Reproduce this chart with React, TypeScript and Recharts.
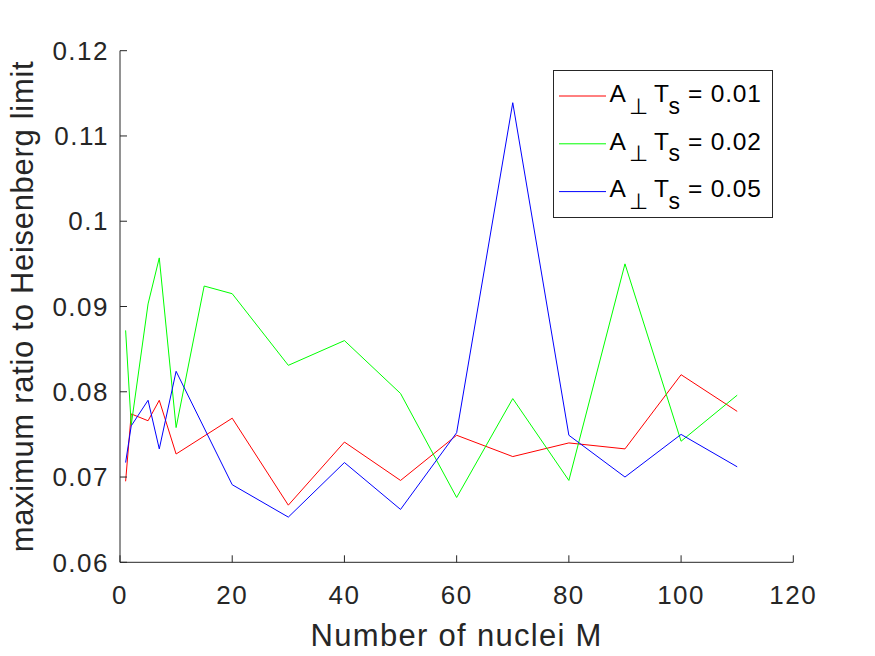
import React from 'react';
import { LineChart, Line, XAxis, YAxis, Legend } from 'recharts';

const nuclei = [1, 2, 5, 7, 10, 15, 20, 30, 40, 50, 60, 70, 80, 90, 100, 110];
const ts001 = [0.0695, 0.0774, 0.0766, 0.079, 0.0727, null, 0.0769, 0.0667, 0.0741, 0.0696, 0.0749, 0.0724, 0.074, 0.0733, 0.082, 0.0777];
const ts002 = [0.0872, 0.0761, 0.0903, 0.0957, 0.0758, 0.0924, 0.0915, 0.0831, 0.086, 0.0798, 0.0676, 0.0792, 0.0696, 0.095, 0.0742, 0.0796];
const ts005 = [0.0717, 0.076, 0.079, 0.0733, 0.0824, null, 0.0691, 0.0653, 0.0717, 0.0662, 0.0752, 0.1139, 0.0749, 0.07, 0.075, 0.0712];

const xTicks = [0, 20, 40, 60, 80, 100, 120];
const yTicks = [0.06, 0.07, 0.08, 0.09, 0.1, 0.11, 0.12];
const legendValues = ['0.01', '0.02', '0.05'];
const seriesColors = ['#ff0000', '#00ff00', '#0000ff'];

const data = nuclei.map((m, i) => ({ M: m, a: ts001[i], b: ts002[i], c: ts005[i] }));

const FONT = '"Liberation Sans", Arial, Helvetica, sans-serif';
const INK = '#262626';

const LegendBox = () => (
  <svg width={220} height={148} style={{ display: 'block' }}>
    <rect x={0.5} y={0.5} width={219} height={147} fill="#ffffff" stroke={INK} strokeWidth={1} />
    {legendValues.map((v, i) => {
      const ly = 26 + 47.8 * i;
      return (
        <g key={v}>
          <line x1={6} x2={53} y1={ly} y2={ly} stroke={seriesColors[i]} strokeWidth={1} />
          <text x={56.5} y={ly + 5.8} fontFamily={FONT} fontSize={24.5} fill="#000">
            A
            <tspan x={76} dy={11.8} fontSize={22} fontFamily={'"DejaVu Sans", sans-serif'}>⊥</tspan>
            <tspan x={101} dy={-11.8}>T</tspan>
            <tspan x={115.5} dy={11.8} fontSize={23}>s</tspan>
            <tspan x={135} dy={-11.8} letterSpacing={0.8}>= {v}</tspan>
          </text>
        </g>
      );
    })}
  </svg>
);

export default function App() {
  return (
    <div style={{ position: 'absolute', left: 0, top: 0, width: 875, height: 656, background: '#ffffff' }}>
      <LineChart width={875} height={656} data={data} margin={{ top: 50.7, right: 81.7, bottom: 0, left: 0 }}>
        <XAxis
          dataKey="M"
          type="number"
          domain={[0, 120]}
          ticks={xTicks}
          interval={0}
          height={93.7}
          tickSize={-7}
          tickMargin={30}
          axisLine={{ stroke: INK, strokeWidth: 1 }}
          tickLine={{ stroke: INK, strokeWidth: 1 }}
          tick={{ fill: INK, fontSize: 26, fontFamily: FONT, letterSpacing: 1.5 }}
          label={{ value: 'Number of nuclei M', position: 'insideBottom', offset: 10, fill: INK, fontSize: 31, fontFamily: FONT, letterSpacing: 1.3 }}
        />
        <YAxis
          type="number"
          domain={[0.06, 0.12]}
          ticks={yTicks}
          interval={0}
          width={120}
          tickSize={-7}
          tickMargin={18}
          tickFormatter={(v: number) => String(Number(v.toFixed(2)))}
          axisLine={{ stroke: INK, strokeWidth: 1 }}
          tickLine={{ stroke: INK, strokeWidth: 1 }}
          tick={{ fill: INK, fontSize: 26, fontFamily: FONT, letterSpacing: 1.5 }}
          label={{ value: 'maximum ratio to Heisenberg limit', angle: -90, position: 'insideLeft', offset: 22, fill: INK, fontSize: 31, fontFamily: FONT, letterSpacing: 0.7, style: { textAnchor: 'middle' } }}
        />
        <Legend
          layout="vertical"
          align="center"
          verticalAlign="middle"
          content={() => <LegendBox />}
          wrapperStyle={{ left: 553, top: 70, width: 220, height: 148 }}
        />
        <Line type="linear" dataKey="a" stroke={seriesColors[0]} strokeWidth={1} dot={false} connectNulls isAnimationActive={false} />
        <Line type="linear" dataKey="b" stroke={seriesColors[1]} strokeWidth={1} dot={false} connectNulls isAnimationActive={false} />
        <Line type="linear" dataKey="c" stroke={seriesColors[2]} strokeWidth={1} dot={false} connectNulls isAnimationActive={false} />
      </LineChart>
    </div>
  );
}
